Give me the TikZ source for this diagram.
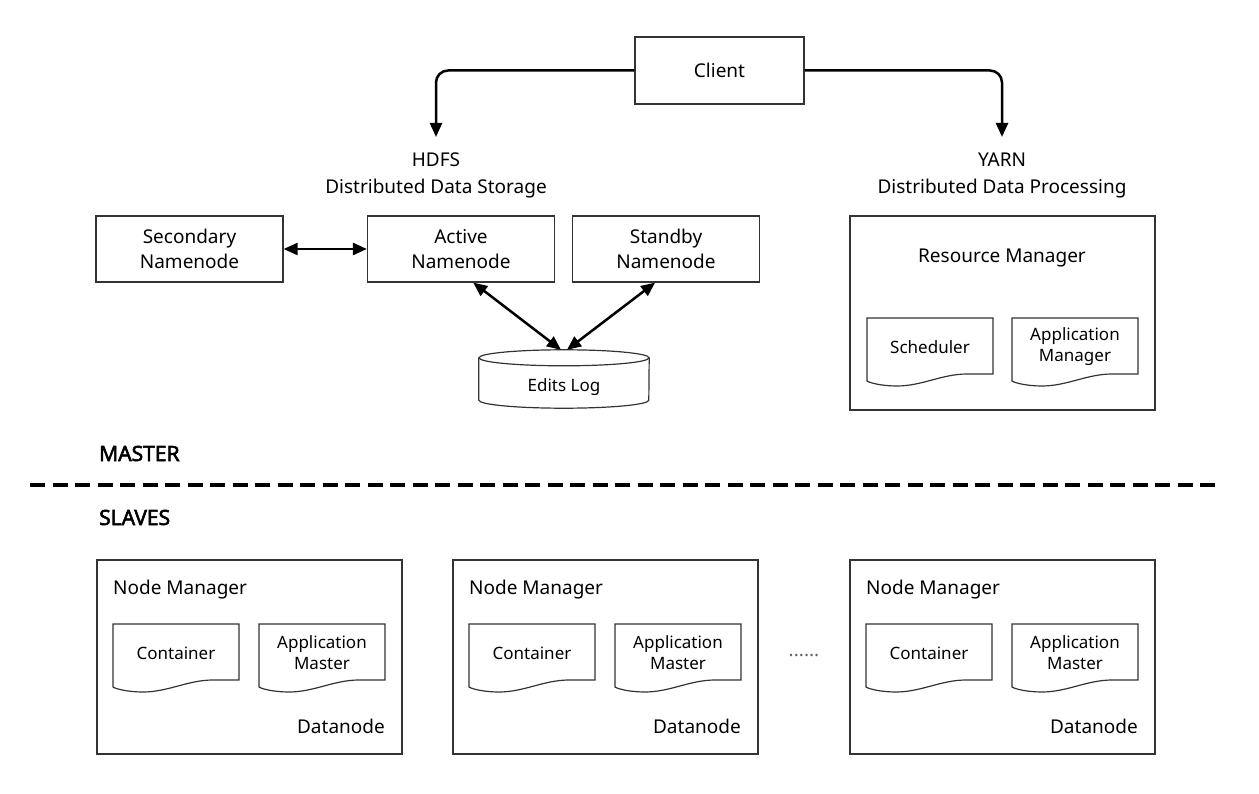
\documentclass[tikz,border=0pt]{standalone}
\usepackage{fontspec}
\setmainfont{Noto Sans}
\newfontfamily\headfont{Noto Sans}[FakeBold=2.5]
\usetikzlibrary{arrows.meta,positioning}

\tikzset{
  box/.style={draw=black!80, line width=1.2pt},
  namebox/.style={box, minimum width=187pt, minimum height=66pt, align=center, font=\fontsize{19pt}{25pt}\selectfont},
  bigbox/.style={box, minimum width=305pt, minimum height=194pt},
  caption/.style={align=center, inner xsep=0pt, inner ysep=16pt, anchor=north, font=\fontsize{19pt}{27pt}\selectfont},
  plain/.style={inner sep=0pt, font=\fontsize{19pt}{24pt}\selectfont},
  doctext/.style={align=center, inner sep=0pt, minimum width=126pt, minimum height=56pt, font=\fontsize{17pt}{21pt}\selectfont},
  headtext/.style={inner sep=0pt, anchor=base west, font=\fontsize{21pt}{26pt}\headfont},
  logshape/.style={inner sep=0pt, minimum width=170pt, minimum height=58pt},
  flow/.style={line width=2.5pt, -{Triangle[length=14pt,width=12pt]}},
  biflow/.style={line width=2.5pt, {Triangle[length=14pt,width=12pt]}-{Triangle[length=14pt,width=12pt]}},
  divider/.style={line width=4pt, dash pattern=on 15pt off 7.5pt}
}

% document shape: name, left, top, text
\newcommand{\docnode}[4]{
  \begin{scope}[shift={(#2,#3)}]
    \draw[box] (0,0) -- (126,0) -- (126,56) -- (100,56) .. controls (75,56) and (55,68) .. (30,68) .. controls (15,68) and (3,65) .. (0,63) -- cycle;
    \node[doctext] (#1) at (63,29) {#4};
  \end{scope}
}

\begin{document}
\begin{tikzpicture}[x=1pt,y=-1pt]
\useasboundingbox (0,0) rectangle (1259,794);

% client and the two halves
\node[box, minimum width=169pt, minimum height=67pt, font=\fontsize{19pt}{24pt}\selectfont] (client) at (719.5,70.5) {Client};
\node[caption] (hdfs) at (436,137) {HDFS\\Distributed Data Storage};
\node[caption] (yarn) at (1002,137) {YARN\\Distributed Data Processing};
\draw[flow, rounded corners=12pt] (client.west) -| (hdfs.north);
\draw[flow, rounded corners=12pt] (client.east) -| (yarn.north);

% namenodes
\node[namebox] (secondary) at (189.5,249) {Secondary\\Namenode};
\node[namebox] (active) at (461,249) {Active\\Namenode};
\node[namebox] (standby) at (666,249) {Standby\\Namenode};
\draw[biflow] (secondary.east) -- (active.west);

% edits log
\node[logshape] (editslog) at (564,379) {};
\draw[box] ([yshift=-8pt]editslog.north) ellipse[x radius=85pt, y radius=8pt];
\draw[box] ([yshift=-8pt]editslog.north west) -- ([yshift=8pt]editslog.south west) arc[start angle=180, end angle=360, x radius=85pt, y radius=8pt] -- ([yshift=-8pt]editslog.north east);
\node[doctext, minimum height=0pt] (logtext) at ([yshift=-8pt]editslog.center) {Edits Log};
\draw[biflow] (active.-70) -- ([xshift=-3pt]editslog.north);
\draw[biflow] (standby.-108) -- ([xshift=3pt]editslog.north);

% resource manager
\node[bigbox] (rm) at (1002.5,313) {};
\node[plain, anchor=base] (rmtext) at (1002,263) {Resource Manager};
\docnode{scheduler}{867}{318}{Scheduler}
\docnode{appmanager}{1012}{318}{Application\\Manager}

% master / slaves
\node[headtext] (master) at (99,461) {MASTER};
\coordinate (divl) at (30,485);
\coordinate (divr) at (1221,485);
\draw[divider] (divl) -- (divr);
\node[headtext] (slaves) at (99,525) {SLAVES};

\foreach \L [count=\i] in {97,453,850} {
  \node[bigbox] (slave\i) at (\L+152.5,657) {};
  \node[plain, anchor=base west] (nm\i) at (\L+16,594) {Node Manager};
  \docnode{cont\i}{\L+16}{624}{Container}
  \docnode{am\i}{\L+162}{624}{Application\\Master}
  \node[plain, anchor=base east] (dn\i) at (\L+288,733) {Datanode};
}
\node[plain, text=black!60] (dots) at (804,655) {......};
\end{tikzpicture}
\end{document}
